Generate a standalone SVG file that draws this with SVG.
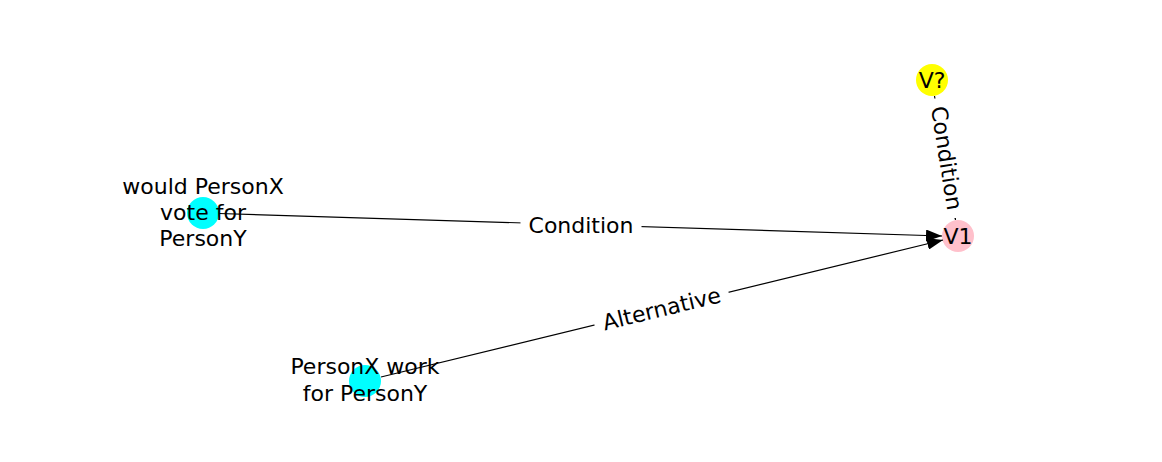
<svg xmlns="http://www.w3.org/2000/svg" width="1162" height="462" viewBox="0 0 1162 462">
<style>
text{font-family:"DejaVu Sans",sans-serif;font-size:22px;fill:#000;text-anchor:middle}
.e{stroke:#000;stroke-width:1.2;fill:none}
.bg{fill:#fff}
</style>
<defs>
<marker id="ah" viewBox="0 0 16 12" refX="16" refY="6" markerWidth="16" markerHeight="12" markerUnits="userSpaceOnUse" orient="auto">
<path d="M0,0 L16,6 L0,12 Z" fill="#000"/>
</marker>
</defs>
<rect width="1162" height="462" fill="#fff"/>
<g id="nodes-shapes">
<g id="n-would"><circle cx="203" cy="213" r="16" fill="#00ffff"/></g>
<g id="n-work"><circle cx="365" cy="381" r="16" fill="#00ffff"/></g>
<g id="n-v1"><circle cx="958" cy="236" r="16" fill="#ffc0cb"/></g>
<g id="n-vq"><circle cx="932" cy="80" r="16" fill="#ffff00"/></g>
</g>
<g id="connectors">
<line class="e" x1="219" y1="213.5" x2="942" y2="236" marker-end="url(#ah)"/>
<line class="e" x1="381" y1="377" x2="943" y2="240" marker-end="url(#ah)"/>
<line class="e" x1="934.5" y1="96" x2="955.5" y2="220" marker-end="url(#ah)"/>
<g id="edge-labels">
<g transform="translate(581,224.5)">
<rect class="bg" x="-60.5" y="-16" width="121" height="32" rx="4"/>
<text y="8">Condition</text>
</g>
<g transform="translate(661.5,308.5) rotate(-13.7)">
<rect class="bg" x="-69" y="-16" width="138" height="32" rx="4"/>
<text y="8">Alternative</text>
</g>
<g transform="translate(947,158) rotate(81)">
<rect class="bg" x="-60.5" y="-16" width="121" height="32" rx="4"/>
<text y="8">Condition</text>
</g>
</g>
</g>
<g id="node-labels">
<g id="l-would"><text x="203" y="194">would PersonX</text><text x="203" y="220">vote for</text><text x="203" y="246">PersonY</text></g>
<g id="l-work"><text x="365" y="374">PersonX work</text><text x="365" y="401">for PersonY</text></g>
<g id="l-v1"><text x="958" y="244">V1</text></g>
<g id="l-vq"><text x="932" y="88">V?</text></g>
</g>
</svg>
